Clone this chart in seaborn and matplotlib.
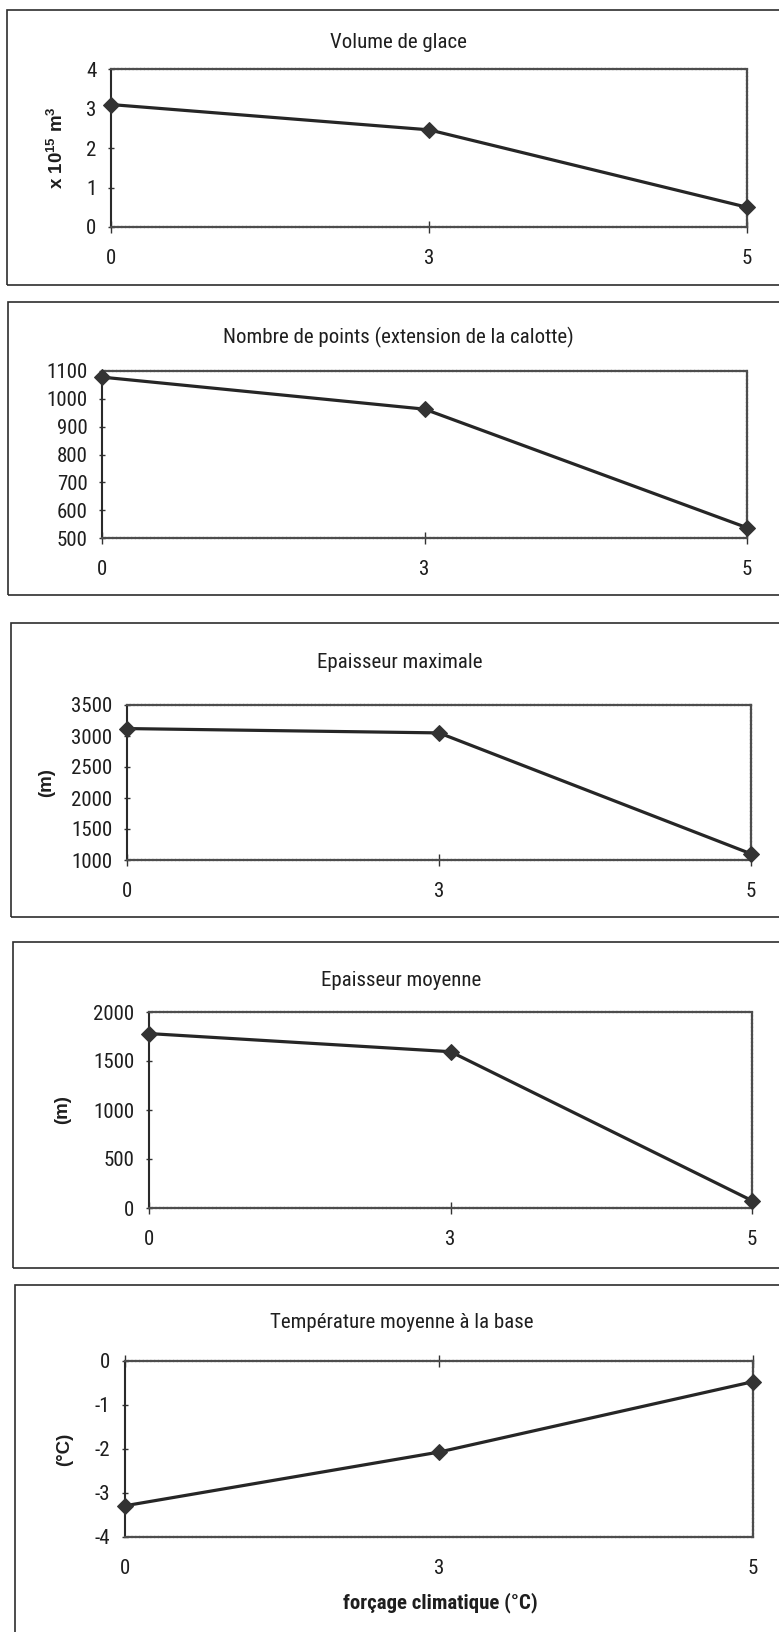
import os
import matplotlib
matplotlib.use("Agg")
import matplotlib.pyplot as plt
from matplotlib import font_manager as fm
from matplotlib.patches import Rectangle
import numpy as np
import pandas as pd
import seaborn as sns

# ---- data ----
forcing = ["0", "3", "5"]
volume = [3.10, 2.46, 0.50]            # x 10^15 m3
nb_points = [1078, 963, 537]
ep_max = [3120, 3050, 1100]            # m
ep_moy = [1780, 1595, 75]              # m
temp_base = [-3.29, -2.07, -0.47]      # °C

titles = ["Volume de glace",
          "Nombre de points (extension de la calotte)",
          "Epaisseur maximale",
          "Epaisseur moyenne",
          "Température moyenne à la base"]
ylabels = [r"x 10$^{\mathbf{15}}$ m$^{\mathbf{3}}$", "", "(m)", "(m)", "(°C)"]
yticks = [[0, 1, 2, 3, 4],
          [500, 600, 700, 800, 900, 1000, 1100],
          [1000, 1500, 2000, 2500, 3000, 3500],
          [0, 500, 1000, 1500, 2000],
          [-4, -3, -2, -1, 0]]
xlabel = "forçage climatique (°C)"
series = [volume, nb_points, ep_max, ep_moy, temp_base]

sns.set_theme(style="white")
plt.rcParams['font.family'] = ['Liberation Sans', 'DejaVu Sans']
plt.rcParams['mathtext.fontset'] = 'custom'
plt.rcParams['mathtext.rm'] = 'Liberation Sans'
plt.rcParams['mathtext.bf'] = 'Liberation Sans:bold'

# look for a condensed sans (the original uses Arial Narrow)
files = {os.path.basename(f.fname): f.fname for f in fm.fontManager.ttflist}
prefs = [("LiberationSansNarrow-Regular.ttf", "LiberationSansNarrow-Bold.ttf"),
         ("ArialNarrow.ttf", "ArialNarrowBold.ttf"),
         ("RobotoCondensed-Regular.ttf", "RobotoCondensed-Bold.ttf"),
         ("NotoSans-Condensed.ttf", "NotoSans-CondensedBold.ttf"),
         ("NotoSans-CondensedRegular.ttf", "NotoSans-CondensedBold.ttf")]
reg_path, bold_path = None, None
for rg, bd in prefs:
    if rg in files:
        reg_path = files[rg]
        bold_path = files.get(bd)
        break


def fp(size, bold=False):
    if reg_path is None:
        return fm.FontProperties(family=['Liberation Sans', 'DejaVu Sans'], size=size * 0.93,
                                 weight='bold' if bold else 'normal')
    if bold:
        if bold_path:
            return fm.FontProperties(fname=bold_path, size=size)
        return fm.FontProperties(fname=reg_path, size=size, weight='bold')
    return fm.FontProperties(fname=reg_path, size=size)


W, H = 779, 1632
fig = plt.figure(figsize=(7.79, 16.32), dpi=100)

# layout in pixels (left, right, top, bottom)
ax_px = [(111, 747, 69, 227),
         (102, 747, 371, 538),
         (127, 751, 705, 860),
         (149, 752, 1012, 1208),
         (125, 753, 1361, 1537)]
box_px = [(7, 790, 10, 285),
          (8, 790, 302, 595),
          (11, 790, 623, 917),
          (13, 790, 942, 1268),
          (15, 790, 1285, 1700)]
title_y = [43, 337, 662, 980, 1323]
title_x = [398, 398, 400, 401, 402]
ylabel_x = [57, None, 47, 63, 65]

ink = "#262626"
txt = "#1e1e1e"
fs = 15

for i in range(5):
    bl, br, bt, bb = box_px[i]
    fig.patches.append(Rectangle((bl / W, 1 - bb / H), (br - bl) / W, (bb - bt) / H,
                                 transform=fig.transFigure, fill=False,
                                 edgecolor="#2e2e2e", linewidth=1.2))
    l, r, t, b = ax_px[i]
    ax = fig.add_axes([l / W, 1 - b / H, (r - l) / W, (b - t) / H])
    df = pd.DataFrame({"pos": np.arange(len(forcing)), "val": series[i]})
    sns.lineplot(data=df, x="pos", y="val", ax=ax, color=ink, linewidth=2.3,
                 marker="D", markersize=8.5, markeredgecolor="#333333",
                 markerfacecolor="#333333", clip_on=False, zorder=5)
    ax.set_xlim(0, len(forcing) - 1)
    ax.set_ylim(yticks[i][0], yticks[i][-1])
    ax.set_yticks(yticks[i])
    ax.set_yticklabels([str(v) for v in yticks[i]], fontproperties=fp(fs), color=txt)
    ax.set_xticks(np.arange(len(forcing)))
    ax.set_xticklabels(forcing, fontproperties=fp(fs), color=txt)
    ax.set_xlabel("")
    ax.set_ylabel("")
    for side in ["right", "top", "bottom"]:
        ax.spines[side].set_color("#4d4d4d")
        ax.spines[side].set_linewidth(1.6)
        ax.spines[side].set_linestyle((0, (1.2, 0.5)))
    ax.spines["left"].set_color("#2a2a2a")
    ax.spines["left"].set_linewidth(1.5)
    ax.tick_params(axis="y", direction="inout", length=5, width=1, color="#333333",
                   left=True, pad=8)
    if i == 4:
        ax.tick_params(axis="x", direction="inout", length=9, width=1, color="#333333",
                       top=True, bottom=False, labelbottom=True, pad=11)
    else:
        ax.tick_params(axis="x", direction="inout", length=9, width=1, color="#333333",
                       bottom=True, pad=11)
    fig.text(title_x[i] / W, 1 - title_y[i] / H, titles[i], ha="center",
             va="center", fontproperties=fp(fs), color=txt)
    if ylabels[i]:
        fig.text(ylabel_x[i] / W, 1 - (t + b) / 2 / H, ylabels[i], rotation=90,
                 ha="center", va="center", fontsize=13.5, fontweight="bold",
                 color=txt)
    if i == 4:
        fig.text(440 / W, 1 - 1603 / H, xlabel,
                 ha="center", va="center", fontproperties=fp(15, bold=True),
                 color=txt)

fig.savefig("out.png", dpi=100, facecolor="white")
